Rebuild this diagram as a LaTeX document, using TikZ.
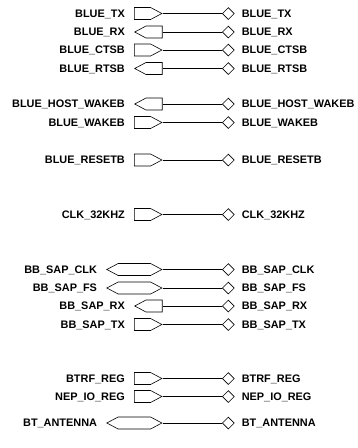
\documentclass[tikz,border=0pt]{standalone}
\usepackage{fontspec}
\setmainfont{Liberation Sans}
\usetikzlibrary{positioning, shapes.geometric, shapes.symbols}

\tikzset{
  sigbox/.style={draw, signal, signal pointer angle=56, minimum height=12pt,
    inner sep=0pt, line width=0.6pt},
  sigin/.style={sigbox, signal to=east, minimum width=27.5pt},
  sigout/.style={sigbox, signal to=west, minimum width=27.5pt},
  sigbi/.style={sigbox, signal to=east and west, minimum width=55pt},
  pad/.style={draw, diamond, minimum width=12pt, minimum height=12pt,
    inner sep=0pt, line width=0.6pt},
  netlabel/.style={font=\bfseries\fontsize{10.9}{12}\selectfont, inner sep=0pt,
    text height=7.8pt, text depth=0pt},
  wire/.style={line width=0.6pt}
}

\begin{document}
\begin{tikzpicture}[x=1pt, y=-1pt]
\useasboundingbox (0,0) rectangle (357,448);

% ========== pins: y / kind / net name ==========
\foreach \y/\kind/\name [count=\i] in {
    13.5/in/BLUE\_TX,
    32/out/BLUE\_RX,
    50/in/BLUE\_CTSB,
    68.5/out/BLUE\_RTSB,
    104/out/BLUE\_HOST\_WAKEB,
    122.5/in/BLUE\_WAKEB,
    160/in/BLUE\_RESETB,
    214.5/in/CLK\_32KHZ,
    269.5/bi/BB\_SAP\_CLK,
    288/bi/BB\_SAP\_FS,
    306/out/BB\_SAP\_RX,
    324.5/in/BB\_SAP\_TX,
    378.5/in/BTRF\_REG,
    396.5/in/NEP\_IO\_REG,
    423/bi/BT\_ANTENNA} {
  \node[sig\kind, anchor=east] (pin\i) at (162.5,\y) {};
  \node[netlabel, left=9pt of pin\i.west] (lname\i) {\name};
  \node[pad, anchor=west] (pad\i) at (222,\y) {};
  \node[netlabel, right=7pt of pad\i.east] (rname\i) {\name};
  \draw[wire] (pin\i.east) -- (pad\i.west);
}

\end{tikzpicture}
\end{document}
